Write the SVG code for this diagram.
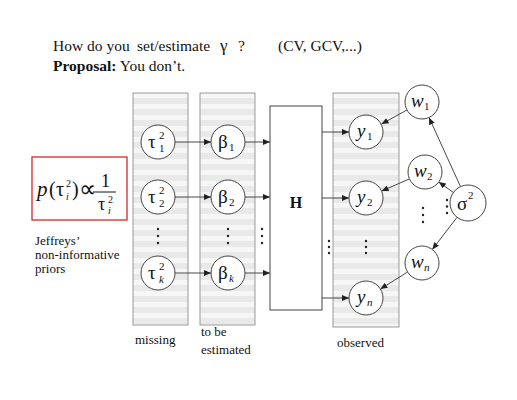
<svg xmlns="http://www.w3.org/2000/svg" width="517" height="400" viewBox="0 0 517 400">
<style>
text{font-family:"Liberation Serif","Times New Roman",serif;fill:#111}
.col{fill:url(#stripes);stroke:#999;stroke-width:1}
.node{fill:#fff;stroke:#444;stroke-width:1}
.lab{font-size:19px}
.sm{font-size:11px}
.edge{stroke:#333;stroke-width:0.9;fill:none;marker-end:url(#arr)}
.dot{fill:#222}
.cap{font-size:13px}
</style>
<defs>
<pattern id="stripes" x="0" y="93" width="10" height="11" patternUnits="userSpaceOnUse">
<rect width="10" height="11" fill="#f6f6f6"/>
<rect y="5" width="10" height="6" fill="#e9e9e9"/>
</pattern>
<marker id="arr" markerWidth="7" markerHeight="6" refX="7" refY="3" orient="auto" markerUnits="userSpaceOnUse">
<path d="M0,0 L7,3 L0,6 z" fill="#222"/>
</marker>
</defs>
<rect width="517" height="400" fill="#fff"/>

<g id="title">
<text x="53" y="51" font-size="15.5">How do you</text>
<text x="137" y="51" font-size="15.5">set/estimate</text>
<text x="220" y="51" font-size="17">γ</text>
<text x="238" y="51" font-size="15.5">?</text>
<text x="278" y="51" font-size="15.5">(CV, GCV,...)</text>
<text x="53" y="71" font-size="15.5"><tspan font-weight="bold">Proposal:</tspan> You don’t.</text>
</g>

<g id="prior">
<rect x="32" y="157" width="95" height="63" fill="#fff" stroke="#d9262b" stroke-width="1.3"/>
<text x="37" y="196" font-size="21" font-style="italic">p</text>
<text x="49" y="196" font-size="20">(</text>
<text x="56" y="196" font-size="20">τ</text>
<text x="66" y="187" font-size="10">2</text>
<text x="66" y="200" font-size="10" font-style="italic">i</text>
<text x="72" y="196" font-size="20">)</text>
<text x="79" y="197" font-size="24">∝</text>
<line x1="93" y1="192" x2="116" y2="192" stroke="#111" stroke-width="1"/>
<text x="101" y="187" font-size="18">1</text>
<text x="98" y="210" font-size="18">τ</text>
<text x="108" y="203" font-size="10">2</text>
<text x="108" y="214" font-size="10" font-style="italic">i</text>
<text x="35" y="245" class="cap">Jeffreys’</text>
<text x="35" y="259" class="cap">non-informative</text>
<text x="35" y="273" class="cap">priors</text>
</g>

<g id="columns">
<rect id="col-missing" class="col" x="133" y="93" width="55" height="232"/>
<rect id="col-estimated" class="col" x="200" y="93" width="55" height="232"/>
<rect id="col-observed" class="col" x="333" y="93" width="66" height="234"/>
<text x="135" y="344" class="cap">missing</text>
<text x="201" y="336" class="cap">to be</text>
<text x="201" y="354" class="cap">estimated</text>
<text x="337" y="347" class="cap">observed</text>
</g>

<g id="connectors">
<line class="edge" x1="175" y1="142" x2="211" y2="142"/>
<line class="edge" x1="175" y1="197" x2="211" y2="197"/>
<line class="edge" x1="175" y1="273" x2="211" y2="273"/>
<line class="edge" x1="245" y1="142" x2="270" y2="142"/>
<line class="edge" x1="245" y1="197" x2="270" y2="197"/>
<line class="edge" x1="245" y1="273" x2="270" y2="273"/>
<line class="edge" x1="322" y1="132" x2="349" y2="132"/>
<line class="edge" x1="322" y1="198" x2="349" y2="198"/>
<line class="edge" x1="322" y1="298" x2="349" y2="298"/>
<line class="edge" x1="407" y1="110" x2="381.5" y2="124"/>
<line class="edge" x1="409.4" y1="178.9" x2="381.6" y2="191.1"/>
<line class="edge" x1="407.6" y1="272" x2="380.4" y2="289"/>
<line class="edge" x1="460.5" y1="186.6" x2="429" y2="117.5"/>
<line class="edge" x1="453.4" y1="192.5" x2="438.8" y2="182"/>
<line class="edge" x1="457" y1="217.3" x2="432.3" y2="249.5"/>
</g>

<g id="dots">
<circle class="dot" cx="158" cy="229" r="1.2"/><circle class="dot" cx="158" cy="236" r="1.2"/><circle class="dot" cx="158" cy="243" r="1.2"/>
<circle class="dot" cx="228" cy="229" r="1.2"/><circle class="dot" cx="228" cy="236" r="1.2"/><circle class="dot" cx="228" cy="243" r="1.2"/>
<circle class="dot" cx="262" cy="229" r="1.2"/><circle class="dot" cx="262" cy="236" r="1.2"/><circle class="dot" cx="262" cy="243" r="1.2"/>
<circle class="dot" cx="329" cy="241" r="1.2"/><circle class="dot" cx="329" cy="247" r="1.2"/><circle class="dot" cx="329" cy="253" r="1.2"/>
<circle class="dot" cx="366" cy="241" r="1.2"/><circle class="dot" cx="366" cy="247" r="1.2"/><circle class="dot" cx="366" cy="253" r="1.2"/>
<circle class="dot" cx="423" cy="208" r="1.2"/><circle class="dot" cx="423" cy="215" r="1.2"/><circle class="dot" cx="423" cy="222" r="1.2"/>
<circle class="dot" cx="447" cy="200" r="1.2"/><circle class="dot" cx="447" cy="206.5" r="1.2"/><circle class="dot" cx="447" cy="213" r="1.2"/>
</g>

<g id="tau1"><circle class="node" cx="158" cy="142" r="17"/><text x="148" y="148" class="lab">τ</text><text x="159" y="139" class="sm">2</text><text x="159" y="152" class="sm">1</text></g>
<g id="tau2"><circle class="node" cx="158" cy="197" r="17"/><text x="148" y="203" class="lab">τ</text><text x="159" y="194" class="sm">2</text><text x="159" y="207" class="sm">2</text></g>
<g id="tauk"><circle class="node" cx="158" cy="273" r="17"/><text x="148" y="279" class="lab">τ</text><text x="159" y="270" class="sm">2</text><text x="159" y="283" class="sm" font-style="italic">k</text></g>

<g id="beta1"><circle class="node" cx="228" cy="142" r="17"/><text x="218" y="148" class="lab">β</text><text x="229" y="151" class="sm">1</text></g>
<g id="beta2"><circle class="node" cx="228" cy="197" r="17"/><text x="218" y="203" class="lab">β</text><text x="229" y="206" class="sm">2</text></g>
<g id="betak"><circle class="node" cx="228" cy="273" r="17"/><text x="218" y="279" class="lab">β</text><text x="229" y="282" class="sm" font-style="italic">k</text></g>

<g id="H"><rect x="270" y="106" width="52" height="204" fill="#fff" stroke="#444" stroke-width="1"/><text x="296" y="208" font-size="16" font-weight="bold" text-anchor="middle">H</text></g>

<g id="y1"><circle class="node" cx="366" cy="132" r="17"/><text x="357" y="137" class="lab" font-style="italic">y</text><text x="367" y="140" class="sm">1</text></g>
<g id="y2"><circle class="node" cx="366" cy="198" r="17"/><text x="357" y="203" class="lab" font-style="italic">y</text><text x="367" y="206" class="sm">2</text></g>
<g id="yn"><circle class="node" cx="366" cy="298" r="17"/><text x="357" y="303" class="lab" font-style="italic">y</text><text x="367" y="306" class="sm" font-style="italic">n</text></g>

<g id="w1"><circle class="node" cx="422" cy="102" r="17"/><text x="411" y="107" class="lab" font-style="italic">w</text><text x="424" y="110" class="sm">1</text></g>
<g id="w2"><circle class="node" cx="425" cy="172" r="17"/><text x="414" y="177" class="lab" font-style="italic">w</text><text x="427" y="180" class="sm">2</text></g>
<g id="wn"><circle class="node" cx="422" cy="263" r="17"/><text x="411" y="268" class="lab" font-style="italic">w</text><text x="424" y="271" class="sm" font-style="italic">n</text></g>

<g id="sigma2"><circle class="node" cx="468" cy="203" r="18"/><text x="457" y="210" class="lab">σ</text><text x="468" y="199" class="sm">2</text></g>
</svg>
